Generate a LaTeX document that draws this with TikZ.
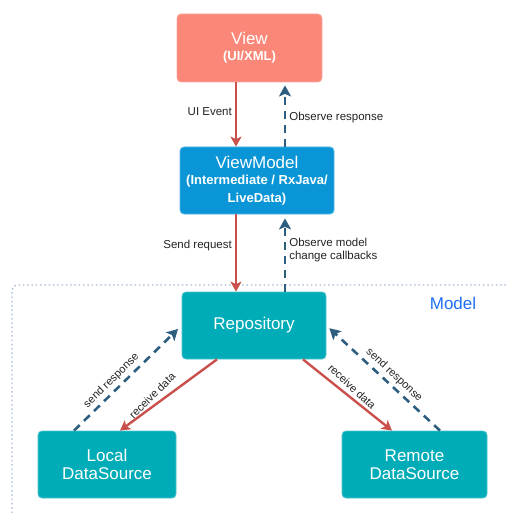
\documentclass[tikz,border=0pt]{standalone}
\usepackage{fontspec}
\setmainfont{Liberation Sans}
\usetikzlibrary{arrows.meta,calc}
\definecolor{ink}{HTML}{222222}
\definecolor{viewfill}{HTML}{FA8777}
\definecolor{vmfill}{HTML}{0A96D6}
\definecolor{datafill}{HTML}{00ACB7}
\definecolor{reqline}{HTML}{C9504C}
\definecolor{obsline}{HTML}{2D5E80}
\definecolor{modelline}{HTML}{A7B9D8}
\definecolor{modeltext}{HTML}{1F6FF5}
\newcommand{\ttl}{\fontsize{17}{19}\selectfont}
\newcommand{\subtl}{\fontsize{13}{15}\selectfont\bfseries}
\newcommand{\lblfont}{\fontsize{11.5}{13.5}\selectfont}
\tikzset{
  box/.style={rounded corners=4pt, text=white, align=center, inner sep=2pt, font=\ttl, line width=0.8pt},
  req/.style={-{Stealth[length=10pt,width=11pt,inset=2.5pt]}, reqline, line width=2.4pt},
  obs/.style={-{Stealth[length=11pt,width=12pt,inset=2.5pt]}, obsline, line width=2.6pt, dash pattern=on 8pt off 6pt},
  lbl/.style={font=\lblfont, text=ink, inner sep=3pt, align=left},
  slbl/.style={font=\fontsize{11}{13}\selectfont, text=ink, inner sep=3pt},
}

\begin{document}
\begin{tikzpicture}[x=1pt,y=-1pt]
\useasboundingbox (0,0) rectangle (506,513);

% ---------- model frame (behind everything)
\draw[modelline, line width=1.3pt, dash pattern=on 1.5pt off 2.8pt, rounded corners=5pt] (12,513) |- (506,285);
\node[font=\ttl, text=modeltext] (modellbl) at (453,303) {Model};

% ---------- boxes
\node[box, fill=viewfill, draw=viewfill!70!white, minimum width=145pt, minimum height=68pt] (view) at (249.5,48)
  {View\\[-3pt]{\subtl (UI/XML)}};
\node[box, fill=vmfill, draw=vmfill!70!white, minimum width=154pt, minimum height=67pt] (vm) at (257,180.5)
  {ViewModel\\[-3pt]{\subtl (Intermediate / RxJava/}\\[-1pt]{\subtl LiveData)}};
\node[box, fill=datafill, draw=datafill!70!white, minimum width=144pt, minimum height=67pt] (rep) at (254,325.5)
  {Repository};
\node[box, fill=datafill, draw=datafill!70!white, minimum width=138pt, minimum height=67pt] (local) at (107,464.5)
  {Local\\[-1pt]DataSource};
\node[box, fill=datafill, draw=datafill!70!white, minimum width=145pt, minimum height=67pt] (remote) at (414.5,464.5)
  {Remote\\[-1pt]DataSource};

% ---------- view <-> viewmodel
\draw[req] ([xshift=-13.5pt]view.south) -- ([xshift=-21pt]vm.north)
  node[lbl, pos=0.45, left] {UI Event};
\draw[obs, shorten >=3pt] ([xshift=28pt]vm.north) -- ([xshift=35.5pt]view.south)
  node[lbl, pos=0.46, right] {Observe response};

% ---------- viewmodel <-> repository
\draw[req] ([xshift=-21pt]vm.south) -- ([xshift=-18pt]rep.north)
  node[lbl, pos=0.4, left] {Send request};
\draw[obs, shorten >=4pt] ([xshift=31pt]rep.north) -- ([xshift=28pt]vm.south)
  node[lbl, pos=0.54, right] {Observe model\\change callbacks};

% ---------- repository <-> data sources
\draw[req] ([xshift=-37pt]rep.south) -- ([xshift=13pt]local.north)
  node[slbl, pos=0.6, rotate=45, above=1pt] {receive data};
\draw[obs, shorten >=5pt] ([xshift=-33pt]local.north) -- (rep.west)
  node[slbl, sloped, pos=0.41, above] {send response};
\draw[req] ([xshift=49pt]rep.south) -- ([xshift=-22.5pt]remote.north)
  node[slbl, pos=0.48, rotate=-43, above=1pt] {receive data};
\draw[obs, shorten >=4pt] ([xshift=25.5pt]remote.north) -- (rep.east)
  node[slbl, sloped, pos=0.46, above] {send response};

\end{tikzpicture}
\end{document}
